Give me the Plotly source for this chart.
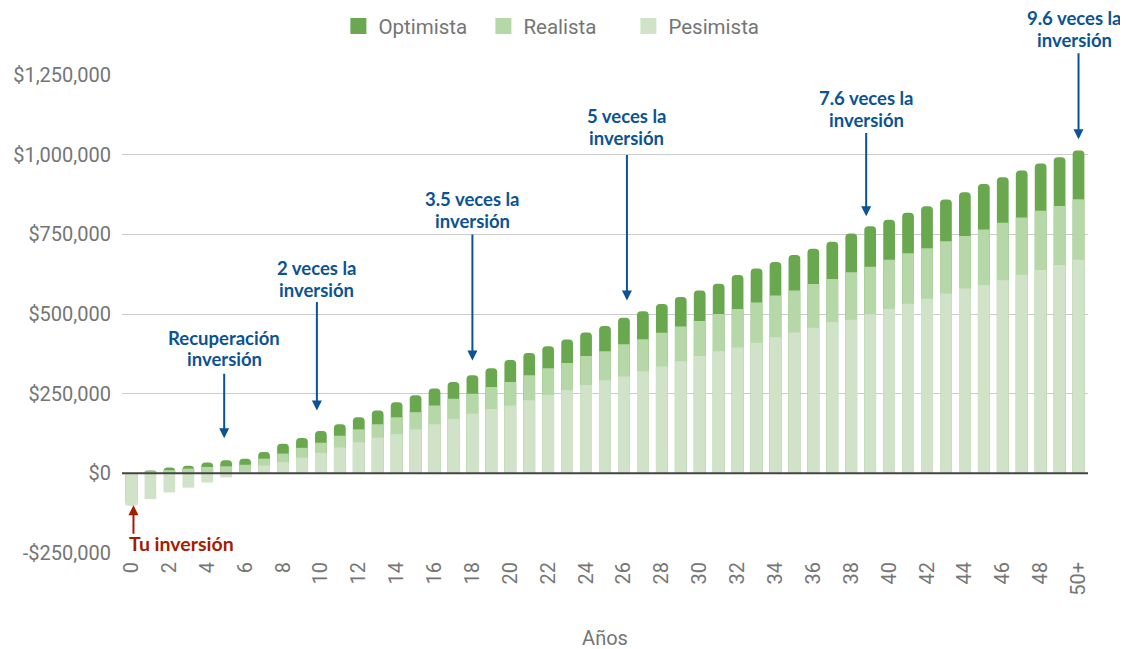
import plotly.graph_objects as go

years = [str(i) for i in range(50)] + ["50+"]

pesimista = [-100000, -81000, -60000, -45000, -29000, -13000, 5000, 25000, 35000, 49000,
             64000, 81000, 97000, 112000, 123000, 138000, 154000, 171000, 187000, 202000,
             213000, 229000, 246000, 261000, 277000, 292000, 304000, 320000, 335000, 352000,
             368000, 383000, 395000, 410000, 427000, 442000, 457000, 474000, 482000, 499000,
             516000, 532000, 548000, 564000, 580000, 591000, 606000, 623000, 638000, 654000,
             670000]
realista = [-100000, 6000, 10000, 15000, 20000, 22000, 27000, 46000, 62000, 80000,
            96000, 118000, 138000, 154000, 176000, 192000, 213000, 234000, 250000, 271000,
            287000, 308000, 330000, 346000, 368000, 383000, 405000, 421000, 441000, 461000,
            478000, 500000, 516000, 536000, 558000, 574000, 594000, 610000, 631000, 648000,
            670000, 691000, 706000, 728000, 745000, 765000, 786000, 803000, 824000, 839000,
            860000]
optimista = [-100000, 9000, 18000, 24000, 34000, 41000, 46000, 67000, 93000, 111000,
             133000, 154000, 176000, 197000, 223000, 245000, 266000, 287000, 308000, 330000,
             356000, 378000, 399000, 420000, 442000, 462000, 488000, 509000, 531000, 553000,
             574000, 595000, 622000, 643000, 663000, 685000, 705000, 727000, 753000, 775000,
             796000, 818000, 838000, 859000, 882000, 908000, 929000, 950000, 972000, 992000,
             1013000]

series_names = ["Optimista", "Realista", "Pesimista"]
series_colors = ["#6aa84f", "#b6d7a8", "#d0e3c9"]

y_tickvals = [-250000, 0, 250000, 500000, 750000, 1000000, 1250000]
y_ticktext = ["-$250,000", "$0", "$250,000", "$500,000", "$750,000", "$1,000,000", "$1,250,000"]
x_tickvals = [years[i] for i in range(0, 51, 2)]

# (year, line 1, line 2, arrow head value, arrow tail value)
notes = [
    ("5", "Recuperación", "inversión", 110000, 317000),
    ("10", "2 veces la", "inversión", 197000, 542000),
    ("18", "3.5 veces la", "inversión", 354000, 754000),
    ("26", "5 veces la", "inversión", 542000, 1004000),
    ("39", "7.6 veces la", "inversión", 807000, 1073000),
    ("50+", "9.6 veces la", "inversión", 1048000, 1323000),
]
# label placement (pixels): line shifts above the arrow head, horizontal shift
note_shifts = [(100, 79, -2), (143, 121, -4), (162, 140, 0), (185, 163, 3), (118, 96, -4), (121, 99, -4)]
arrow_xshift = [-2, -4, 0, 3, -4, 0]

fig = go.Figure()
for name, vals, col in zip(series_names, [optimista, realista, pesimista], series_colors):
    fig.add_trace(go.Bar(
        x=years, y=vals, name=name, legendgroup=name, showlegend=False,
        marker=dict(color=col, line=dict(width=0),
                    cornerradius=4 if name == "Optimista" else 0),
    ))
for name, col in zip(series_names, series_colors):
    fig.add_trace(go.Scatter(
        x=[None], y=[None], mode="markers", name=name, legendgroup=name,
        marker=dict(symbol="square", size=16, color=col),
    ))

blue = "#0b5394"
red = "#a61c00"
ann = []
for (yr, l1, l2, head, tail), (s1, s2, xs), axs in zip(notes, note_shifts, arrow_xshift):
    ann.append(dict(x=yr, y=head, xref="x", yref="y", text="", showarrow=True,
                    axref="pixel", ax=0, ayref="y", ay=tail, xshift=axs,
                    arrowhead=2, arrowsize=1, arrowwidth=2, arrowcolor=blue))
    for line, s in ((l1, s1), (l2, s2)):
        ann.append(dict(x=yr, y=head, xref="x", yref="y", text=line, showarrow=False,
                        xshift=xs, yshift=s, yanchor="middle",
                        font=dict(family="Lato", size=18.5, color=blue, weight="bold")))
ann.append(dict(x="0", y=pesimista[0], xref="x", yref="y", text="", showarrow=True,
                ax=0, ay=30, xshift=2, arrowhead=2, arrowsize=1, arrowwidth=2, arrowcolor=red))
ann.append(dict(x="0", y=pesimista[0], xref="x", yref="y", text="Tu inversión", showarrow=False,
                xanchor="left", yanchor="middle", xshift=-4, yshift=-38,
                font=dict(family="Lato", size=19.5, color=red, weight="bold")))

fig.add_shape(type="line", xref="paper", yref="y", x0=0, x1=1, y0=0, y1=0,
              line=dict(color="#444444", width=2), layer="above")

fig.update_layout(
    width=1128, height=649,
    barmode="overlay", bargap=0.38,
    plot_bgcolor="white", paper_bgcolor="white",
    margin=dict(l=114, r=48, t=67, b=104),
    font=dict(family="Roboto", color="#757575", size=20),
    legend=dict(orientation="h", xref="paper", x=0.224, xanchor="left",
                yref="container", y=0.972, yanchor="middle",
                font=dict(size=20.5, color="#757575"), traceorder="normal",
                entrywidth=100, entrywidthmode="pixels"),
    annotations=ann,
    xaxis=dict(type="category", range=[-0.5, 50.5], tickvals=x_tickvals, tickangle=-90,
               tickfont=dict(size=20, color="#757575"), showgrid=False, zeroline=False,
               ticklabelstandoff=4, automargin=False,
               title=dict(text="Años", font=dict(size=20, color="#757575"), standoff=36)),
    yaxis=dict(range=[-250000, 1250000], tickvals=y_tickvals, ticktext=y_ticktext,
               tickfont=dict(size=20, color="#757575"), gridcolor="#cccccc", gridwidth=1,
               zeroline=False, ticklabelstandoff=10, automargin=False),
)

fig.write_html("out.html")
